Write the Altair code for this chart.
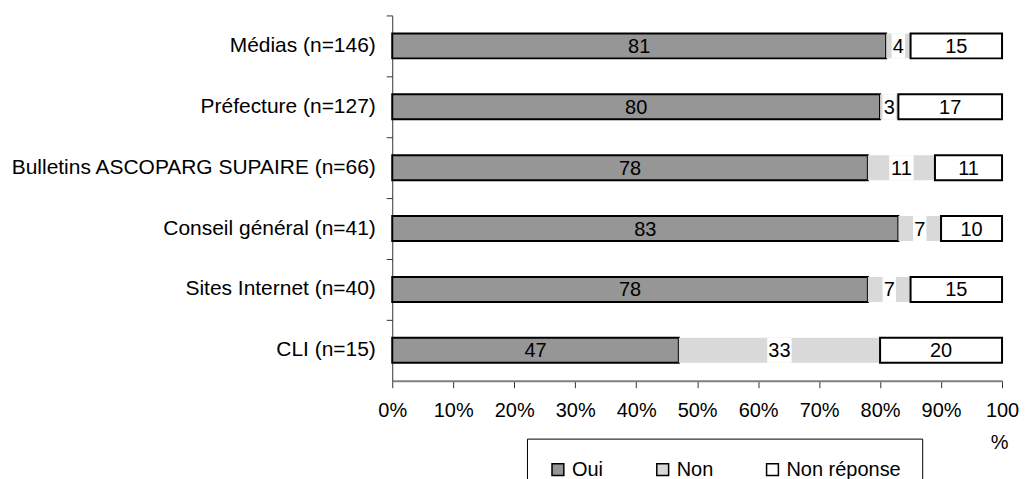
import altair as alt
import pandas as pd

categories = [
    "Médias (n=146)",
    "Préfecture (n=127)",
    "Bulletins ASCOPARG SUPAIRE (n=66)",
    "Conseil général (n=41)",
    "Sites Internet (n=40)",
    "CLI (n=15)",
]
oui = [81, 80, 78, 83, 78, 47]
non = [4, 3, 11, 7, 7, 33]
non_reponse = [15, 17, 11, 10, 15, 20]
series = ["Oui", "Non", "Non réponse"]
colors = ["#969696", "#d9d9d9", "#ffffff"]
x_ticks = [0, 10, 20, 30, 40, 50, 60, 70, 80, 90, 100]

rows = []
for i, c in enumerate(categories):
    start = 0
    for j, (s, vals) in enumerate(zip(series, [oui, non, non_reponse])):
        v = vals[i]
        lab = str(v)
        hw = len(lab) * 0.9 + 0.2
        rows.append(dict(cat=c, serie=s, ordre=j, value=v, x0=start, x1=start + v,
                         mid=start + v / 2, label=lab, lo=start + v / 2 - hw, hi=start + v / 2 + hw))
        start += v
df = pd.DataFrame(rows)

FONT = "Liberation Sans"

xscale = alt.Scale(domain=[0, 100], nice=False, zero=True)
yscale = alt.Scale(domain=categories, paddingInner=0, paddingOuter=0)

x_axis = alt.Axis(
    values=x_ticks,
    labelExpr="datum.value == 100 ? '100' : datum.value + '%'",
    labelFlush=False,
    labelFontSize=20,
    labelFont=FONT,
    labelColor="black",
    labelPadding=13,
    tickSize=7,
    tickColor="#333333",
    domainColor="#808080",
    domainWidth=2,
    grid=False,
    title="%",
    titleFont=FONT,
    titleFontSize=20,
    titleFontWeight="normal",
    titleColor="black",
    titleX=608,
    titleY=62,
    titleAlign="center",
    titleBaseline="middle",
    titleAngle=0,
)

y_axis = alt.Axis(
    title=None,
    bandPosition=0,
    labelFontSize=21,
    labelFont=FONT,
    labelColor="black",
    labelPadding=11,
    labelLimit=0,
    tickSize=6,
    tickColor="#333333",
    domainColor="#333333",
    grid=False,
)

bars = alt.Chart(df).mark_bar(height=alt.RelativeBandSize(band=0.41), strokeWidth=2).encode(
    x=alt.X("x0:Q", scale=xscale, axis=x_axis),
    x2="x1:Q",
    y=alt.Y("cat:N", scale=yscale, axis=y_axis, sort=categories),
    fill=alt.Fill(
        "serie:N",
        scale=alt.Scale(domain=series, range=colors),
        sort=series,
        legend=alt.Legend(
            title=None,
            orient="none",
            legendX=135,
            legendY=424,
            direction="horizontal",
            strokeColor="black",
            fillColor="white",
            padding=21,
            symbolType="square",
            symbolSize=140,
            symbolStrokeColor="black",
            symbolStrokeWidth=1.5,
            labelFontSize=20,
            labelFont=FONT,
            labelColor="black",
            labelOffset=4,
            columnPadding=49,
        ),
    ),
    stroke=alt.condition("datum.serie == 'Non'", alt.value("transparent"), alt.value("black")),
    order=alt.Order("ordre:Q"),
)

boxes = alt.Chart(df).transform_filter("datum.serie == 'Non'").mark_bar(
    height=alt.RelativeBandSize(band=0.41), fill="white", strokeWidth=0
).encode(
    x=alt.X("lo:Q", scale=xscale),
    x2="hi:Q",
    y=alt.Y("cat:N", scale=yscale, sort=categories),
)

texts = alt.Chart(df).mark_text(
    font=FONT, fontSize=20, color="black", align="center", baseline="middle", dy=1
).encode(
    x=alt.X("mid:Q", scale=xscale),
    y=alt.Y("cat:N", scale=yscale, sort=categories),
    text="label:N",
)

chart = (
    alt.layer(bars, boxes, texts)
    .properties(
        width=611,
        height=366,
        autosize=alt.AutoSizeParams(type="none"),
        padding={"left": 385, "top": 7, "right": 17, "bottom": 100},
        background="white",
    )
    .configure_view(stroke=None)
)

chart.save("out.html", embed_options={"renderer": "svg", "actions": False})
